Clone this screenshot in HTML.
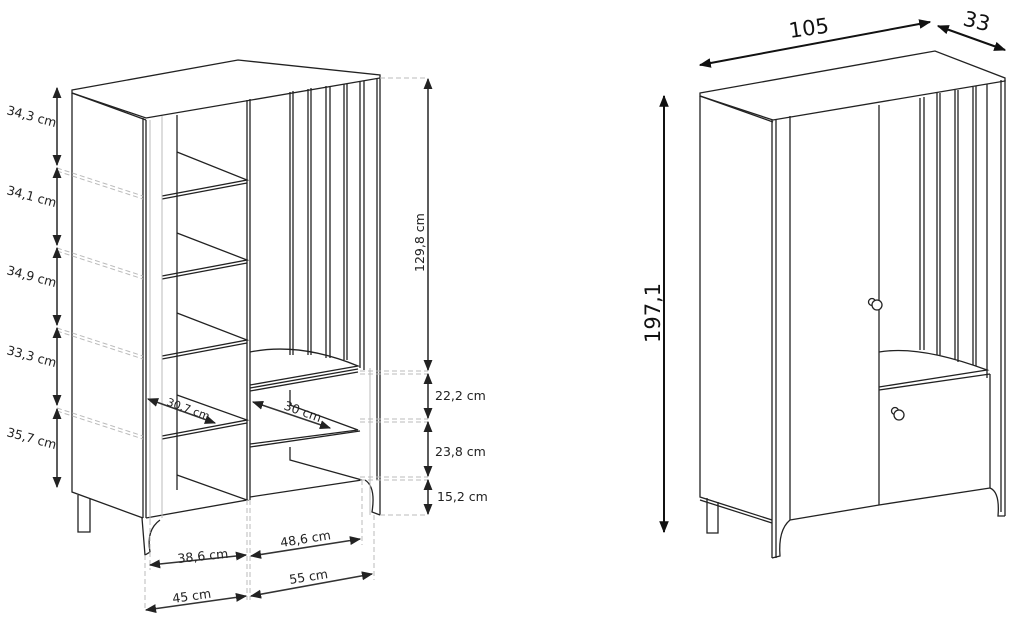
<!DOCTYPE html>
<html><head><meta charset="utf-8"><style>
html,body{margin:0;padding:0;background:#fff;}
svg{display:block;font-family:"DejaVu Sans","Liberation Sans",sans-serif;}
</style></head><body>
<svg width="1020" height="618" viewBox="0 0 1020 618" xmlns="http://www.w3.org/2000/svg">
<defs>
<marker id="ah" viewBox="0 0 10 10" refX="9" refY="5" markerWidth="7" markerHeight="7" orient="auto-start-reverse"><path d="M0,1 L10,5 L0,9 Z" fill="#222"/></marker>
<marker id="ab" viewBox="0 0 10 10" refX="9" refY="5" markerWidth="6" markerHeight="6" orient="auto-start-reverse"><path d="M0,1 L10,5 L0,9 Z" fill="#111"/></marker>
</defs>

<!-- ============ LEFT CABINET ============ -->
<g fill="none" stroke="#222" stroke-width="1.3">
  <path d="M72,90 L238,60 L380,75 L380,78 L146,118 L72,93 Z" fill="#fff"/>
  <line x1="72" y1="93" x2="146" y2="120"/>
  <path d="M72,93 L72,492 L143,518"/>
  <line x1="143" y1="118" x2="143" y2="518"/>
  <line x1="146" y1="120" x2="146" y2="518"/>
  <path d="M78,495 L78,532 L90,532 L90,499"/>
  <line x1="177" y1="115" x2="177" y2="490"/>
  <g>
    <path d="M177,152 L247,180 L162,196"/><line x1="162" y1="199" x2="247" y2="183"/>
    <path d="M177,233 L247,260 L162,276"/><line x1="162" y1="279" x2="247" y2="263"/>
    <path d="M177,313 L247,340 L162,356"/><line x1="162" y1="359" x2="247" y2="343"/>
    <path d="M177,395 L247,420 L162,436"/><line x1="162" y1="439" x2="247" y2="423"/>
    <path d="M177,475 L247,500 L146,518"/>
  </g>
  <line x1="247" y1="100" x2="247" y2="500"/>
  <line x1="250" y1="99" x2="250" y2="500"/>
  <path d="M290,92 L290,355"/><path d="M293,91 L293,355"/>
  <path d="M308,89 L308,355"/><path d="M311,88 L311,355"/>
  <path d="M326,86 L326,358"/><path d="M330,86 L330,358"/>
  <path d="M344,84 L344,360"/><path d="M347,84 L347,360"/>
  <path d="M360,82 L360,368"/><path d="M364,81 L364,370"/>
  <line x1="377" y1="78" x2="377" y2="480"/><line x1="380" y1="78" x2="380" y2="515"/>
  <path d="M250,352 Q300,342 358,366 L250,385"/>
  <line x1="250" y1="388" x2="358" y2="369"/>
  <line x1="250" y1="391" x2="358" y2="372"/>
  <path d="M290,390 L290,405 L358,430 L250,444"/><line x1="250" y1="447" x2="360" y2="431"/>
  <path d="M290,447 L290,460 L362,480 L250,497"/>
  <path d="M365,480 Q376,487 372,512 L380,515"/>
  <path d="M160,520 Q146,530 150,552 L145,555 L142,518"/>
</g>
<g stroke="#bbb" stroke-width="1" fill="none" stroke-dasharray="5,3">
  <line x1="57" y1="168" x2="143" y2="196"/><line x1="57" y1="171" x2="143" y2="199"/>
  <line x1="57" y1="248" x2="143" y2="276"/><line x1="57" y1="251" x2="143" y2="279"/>
  <line x1="57" y1="328" x2="143" y2="356"/><line x1="57" y1="331" x2="143" y2="359"/>
  <line x1="57" y1="408" x2="143" y2="436"/><line x1="57" y1="411" x2="143" y2="439"/>
  <line x1="380" y1="78" x2="428" y2="78"/>
  <line x1="360" y1="371" x2="428" y2="371"/><line x1="360" y1="374" x2="428" y2="374"/>
  <line x1="360" y1="419" x2="428" y2="419"/><line x1="360" y1="422" x2="428" y2="422"/>
  <line x1="360" y1="477" x2="428" y2="477"/><line x1="360" y1="480" x2="428" y2="480"/>
  <line x1="380" y1="515" x2="428" y2="515"/>
  <line x1="145" y1="555" x2="145" y2="610"/>
  <line x1="150" y1="520" x2="150" y2="570"/>
  <line x1="247" y1="500" x2="247" y2="600"/><line x1="250" y1="500" x2="250" y2="600"/>
  <line x1="362" y1="480" x2="362" y2="545"/><line x1="374" y1="515" x2="374" y2="580"/>
</g>
<g stroke="#bbb" stroke-width="1" fill="none">
  <line x1="370" y1="368" x2="370" y2="515"/>
  <line x1="150" y1="120" x2="150" y2="520"/>
  <line x1="162" y1="116" x2="162" y2="518"/>
</g>

<g stroke="#333" stroke-width="1.6" marker-start="url(#ah)" marker-end="url(#ah)">
  <line x1="57" y1="88" x2="57" y2="165"/>
  <line x1="57" y1="168" x2="57" y2="245"/>
  <line x1="57" y1="248" x2="57" y2="325"/>
  <line x1="57" y1="328" x2="57" y2="405"/>
  <line x1="57" y1="409" x2="57" y2="487"/>
  <line x1="428" y1="79" x2="428" y2="370"/>
  <line x1="428" y1="374" x2="428" y2="418"/>
  <line x1="428" y1="422" x2="428" y2="476"/>
  <line x1="428" y1="480" x2="428" y2="514"/>
  <line x1="150" y1="565" x2="246" y2="555"/>
  <line x1="251" y1="556" x2="360" y2="539"/>
  <line x1="146" y1="610" x2="246" y2="596"/>
  <line x1="251" y1="596" x2="372" y2="574"/>
  <line x1="148" y1="399" x2="215" y2="423"/>
  <line x1="253" y1="402" x2="330" y2="428"/>
</g>
<g font-size="12.5" fill="#222">
  <text transform="translate(6,114) rotate(15)">34,3 cm</text>
  <text transform="translate(6,194) rotate(15)">34,1 cm</text>
  <text transform="translate(6,274) rotate(15)">34,9 cm</text>
  <text transform="translate(6,354) rotate(15)">33,3 cm</text>
  <text transform="translate(6,436) rotate(15)">35,7 cm</text>
  <text transform="translate(424,272) rotate(-90)">129,8 cm</text>
  <text x="435" y="400">22,2 cm</text>
  <text x="435" y="456">23,8 cm</text>
  <text x="437" y="501">15,2 cm</text>
  <text transform="translate(178,563) rotate(-6)">38,6 cm</text>
  <text transform="translate(281,547) rotate(-9)">48,6 cm</text>
  <text transform="translate(173,603) rotate(-8)">45 cm</text>
  <text transform="translate(290,584) rotate(-9)">55 cm</text>
  <text transform="translate(166,405) rotate(20)" font-size="11">30,7 cm</text>
  <text transform="translate(283,409) rotate(20)">30 cm</text>
</g>

<!-- ============ RIGHT CABINET ============ -->
<g fill="none" stroke="#222" stroke-width="1.3">
  <path d="M700,93 L935,51 L1005,78 L1005,81 L773,120 L700,96 Z" fill="#fff"/>
  <line x1="700" y1="96" x2="773" y2="122"/>
  <path d="M700,96 L700,497 L772,520"/>
  <line x1="700" y1="500" x2="772" y2="523"/>
  <path d="M707,498 L707,533 L718,533 L718,502"/>
  <line x1="772" y1="120" x2="772" y2="558"/>
  <line x1="776" y1="120" x2="776" y2="558"/>
  <path d="M790,116 L790,520"/>
  <path d="M790,520 Q778,530 780,556 L772,558"/>
  <line x1="790" y1="520" x2="879" y2="505"/>
  <line x1="879" y1="105" x2="879" y2="505"/>
  <line x1="920" y1="98" x2="920" y2="350"/><line x1="924" y1="97" x2="924" y2="350"/>
  <line x1="937" y1="93" x2="937" y2="355"/><line x1="940" y1="93" x2="940" y2="355"/>
  <line x1="955" y1="90" x2="955" y2="360"/><line x1="958" y1="90" x2="958" y2="362"/>
  <line x1="973" y1="87" x2="973" y2="365"/><line x1="976" y1="86" x2="976" y2="366"/>
  <line x1="987" y1="84" x2="987" y2="378"/>
  <line x1="1001" y1="80" x2="1001" y2="512"/><line x1="1005" y1="80" x2="1005" y2="516"/>
  <path d="M879,352 Q920,345 987,370 L879,387"/>
  <line x1="879" y1="390" x2="990" y2="374"/>
  <line x1="990" y1="374" x2="990" y2="488"/>
  <line x1="879" y1="505" x2="990" y2="488"/>
  <path d="M990,488 Q1000,492 998,516 L1005,516"/>
  <circle cx="872" cy="302" r="3.5" fill="#fff"/><circle cx="877" cy="305" r="5" fill="#fff"/>
  <circle cx="895" cy="411" r="3.5" fill="#fff"/><circle cx="899" cy="415" r="5" fill="#fff"/>
</g>
<g stroke="#111" stroke-width="2" marker-start="url(#ab)" marker-end="url(#ab)">
  <line x1="700" y1="65" x2="930" y2="22"/>
  <line x1="938" y1="26" x2="1005" y2="50"/>
  <line x1="664" y1="96" x2="664" y2="532"/>
</g>
<g font-size="21" fill="#111">
  <text transform="translate(790,38) rotate(-8)">105</text>
  <text transform="translate(962,25) rotate(14)">33</text>
  <text transform="translate(660,343) rotate(-90)">197,1</text>
</g>
</svg>
</body></html>
